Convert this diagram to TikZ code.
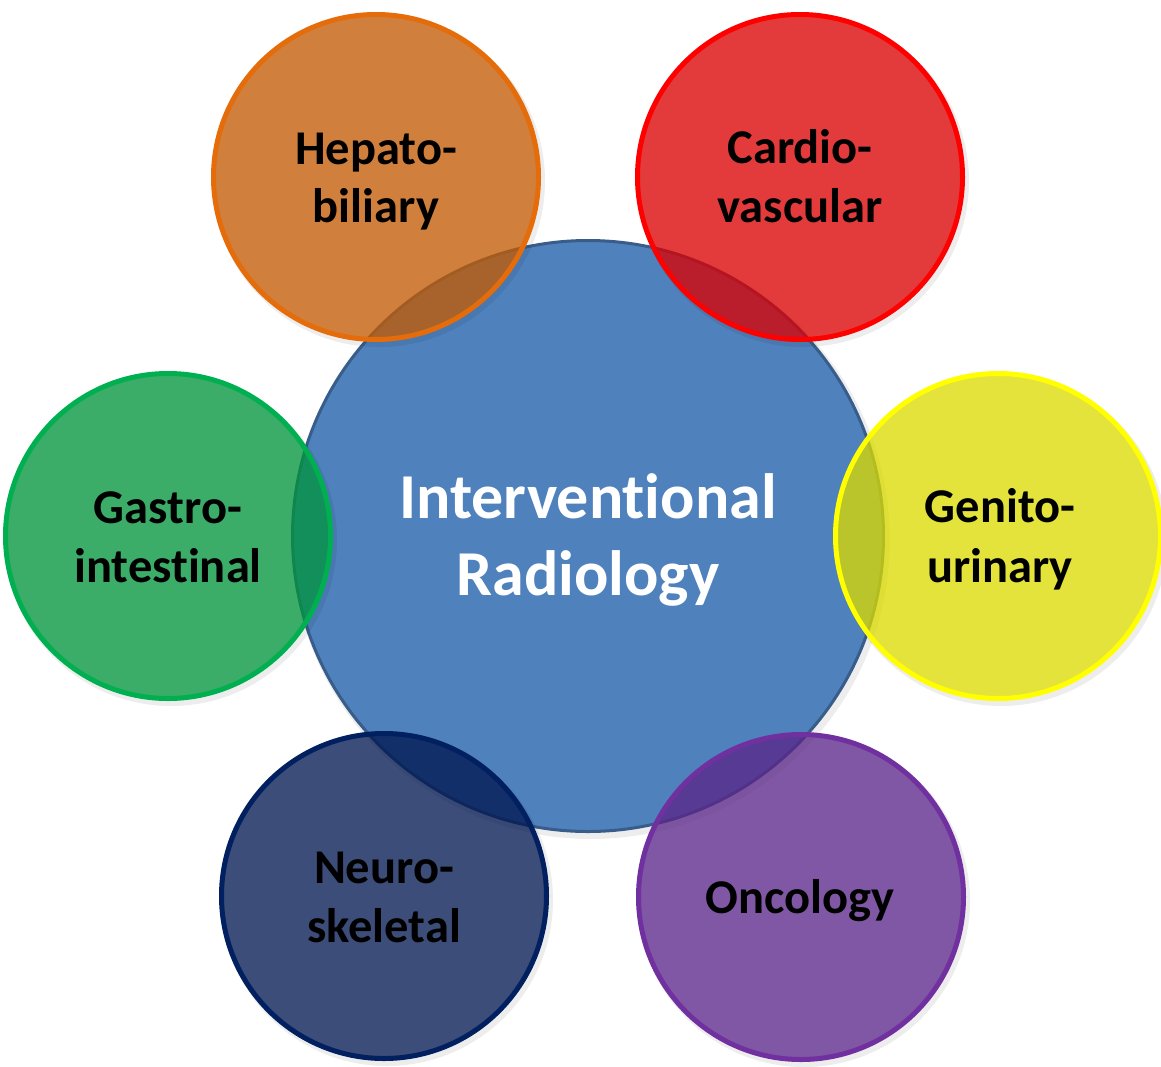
\documentclass[tikz,border=0pt]{standalone}
\usepackage{fontspec}
\setmainfont{Carlito}[Ligatures=NoCommon]
\definecolor{cblue}{RGB}{79,129,189}
\definecolor{cblueb}{RGB}{56,93,138}
\definecolor{forange}{RGB}{200,93,2}
\definecolor{borange}{RGB}{228,108,10}
\definecolor{fred}{RGB}{224,0,0}
\definecolor{bred}{RGB}{255,0,0}
\definecolor{fyellow}{RGB}{224,224,0}
\definecolor{byellow}{RGB}{255,255,0}
\definecolor{fgreen}{RGB}{0,152,62}
\definecolor{bgreen}{RGB}{0,176,80}
\definecolor{fnavy}{RGB}{0,24,82}
\definecolor{bnavy}{RGB}{0,32,96}
\definecolor{fpurple}{RGB}{92,38,140}
\definecolor{bpurple}{RGB}{112,48,160}
\tikzset{
  hub/.style={circle, inner sep=0pt, minimum size=591pt, line width=3pt, draw=cblueb, fill=cblue},
  sat/.style={circle, inner sep=0pt, minimum size=325pt, line width=5pt, fill opacity=0.75},
  shadowc/.style={circle, inner sep=0pt, minimum size=332pt, fill=black, fill opacity=0.07},
  lbl/.style={font=\bfseries\fontsize{48.5}{58}\selectfont, text=black, inner sep=0pt, anchor=base},
  hubtxt/.style={font=\bfseries\fontsize{64}{76}\selectfont, text=white, inner sep=0pt, anchor=base}
}
\begin{document}
\begin{tikzpicture}[x=1pt,y=-1pt]
\useasboundingbox (0,0) rectangle (1161,1066);
% central circle
\node[shadowc, minimum size=598pt] (hubshadow) at (591,540) {};
\node[hub] (hub) at (588,536) {};
% satellite shadows
\node[shadowc] (s1) at (379,181) {};
\node[shadowc] (s2) at (803,181) {};
\node[shadowc] (s3) at (1001,540) {};
\node[shadowc] (s4) at (804,901) {};
\node[shadowc] (s5) at (387,900) {};
\node[shadowc] (s6) at (171,540) {};
% satellites
\node[sat, fill=forange, draw=borange] (hep) at (376,177) {};
\node[sat, fill=fred, draw=bred] (car) at (800,177) {};
\node[sat, fill=fyellow, draw=byellow] (gen) at (998,536) {};
\node[sat, fill=fpurple, draw=bpurple] (onc) at (801,897) {};
\node[sat, fill=fnavy, draw=bnavy] (neu) at (384,896) {};
\node[sat, fill=fgreen, draw=bgreen] (gas) at (168,536) {};
% central text
\node[hubtxt] (hubt1) at (588,518) {Interventional};
\node[hubtxt] (hubt2) at (588,595) {Radiology};
% satellite text
\node[lbl] (hep1) at (376,164) {Hepato-};
\node[lbl] (hep2) at (376,222) {biliary};
\node[lbl] (car1) at (800,163) {Cardio-};
\node[lbl] (car2) at (800,222) {vascular};
\node[lbl] (gas1) at (168,523) {Gastro-};
\node[lbl] (gas2) at (168,582) {intestinal};
\node[lbl] (gen1) at (1000,522) {Genito-};
\node[lbl] (gen2) at (1000,582) {urinary};
\node[lbl] (neu1) at (384,883) {Neuro-};
\node[lbl] (neu2) at (384,942) {skeletal};
\node[lbl] (onc1) at (800,913) {Oncology};
\end{tikzpicture}
\end{document}
